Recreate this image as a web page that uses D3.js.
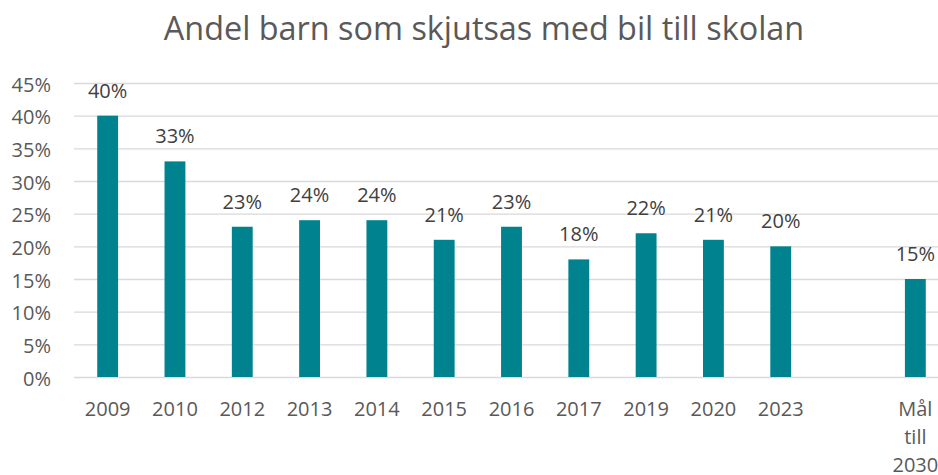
<!DOCTYPE html>
<html>
<head>
<meta charset="utf-8">
<script src="https://cdn.jsdelivr.net/npm/d3@7"></script>
<style>
  body { margin: 0; background: #fff; }
  text { font-family: "Open Sans", sans-serif; }
</style>
</head>
<body>
<div id="chart"></div>
<script>
// data
const categories = ["2009", "2010", "2012", "2013", "2014", "2015", "2016", "2017", "2019", "2020", "2023", "", "Mål till 2030"];
const values = [40, 33, 23, 24, 24, 21, 23, 18, 22, 21, 20, null, 15];
const yTicks = [0, 5, 10, 15, 20, 25, 30, 35, 40, 45];
const title = "Andel barn som skjutsas med bil till skolan";

let width = 938;
let height = 475;

const svg = d3.select("#chart")
    .append("svg")
    .attr("width", width)
    .attr("height", height);

// the plot runs off the right edge in the original
const x = d3.scaleBand()
    .domain(categories.map((c, i) => i))
    .range([74, 949])
    .paddingInner(0.69)
    .paddingOuter(0.345);

const y = d3.scaleLinear().domain([0, 45]).range([377, 83]);

// gridlines + y labels
const yAxis = svg.append("g")
    .attr("transform", "translate(74,0)")
    .call(d3.axisLeft(y).tickValues(yTicks).tickFormat(d => d + "%").tickSize(-(949 - 74)).tickPadding(23));
yAxis.select(".domain").remove();
yAxis.selectAll("line").attr("stroke", "#d9d9d9").attr("stroke-width", 1.3);
yAxis.selectAll("text")
    .attr("fill", "#595959")
    .attr("font-size", "20px")
    .attr("dy", "0.4em");

// bars
svg.selectAll(".bar")
    .data(values.map((v, i) => ({i: i, v: v})).filter(d => d.v != null))
    .join("rect")
    .attr("class", "bar")
    .attr("x", d => x(d.i))
    .attr("width", x.bandwidth())
    .attr("y", d => y(d.v))
    .attr("height", d => y(0) - y(d.v))
    .attr("fill", "#00838f");

// value labels
svg.selectAll(".vlabel")
    .data(values.map((v, i) => ({i: i, v: v})).filter(d => d.v != null))
    .join("text")
    .attr("class", "vlabel")
    .attr("x", d => x(d.i) + x.bandwidth() / 2)
    .attr("y", d => y(d.v) - 18)
    .attr("text-anchor", "middle")
    .attr("font-size", "20px")
    .attr("fill", "#404040")
    .text(d => d.v + "%");

// category labels, long one wraps word by word
const cat = svg.selectAll(".cat")
    .data(categories.map((c, i) => ({i: i, c: c})))
    .join("text")
    .attr("class", "cat")
    .attr("text-anchor", "middle")
    .attr("font-size", "20px")
    .attr("fill", "#595959");
cat.each(function (d) {
    const t = d3.select(this);
    d.c.split(" ").forEach((w, k) => {
        t.append("tspan")
            .attr("x", x(d.i) + x.bandwidth() / 2)
            .attr("y", 416 + k * 28)
            .text(w);
    });
});

// title
svg.append("text")
    .attr("x", 484)
    .attr("y", 40)
    .attr("text-anchor", "middle")
    .attr("font-size", "32.4px")
    .attr("fill", "#595959")
    .text(title);
</script>
</body>
</html>
